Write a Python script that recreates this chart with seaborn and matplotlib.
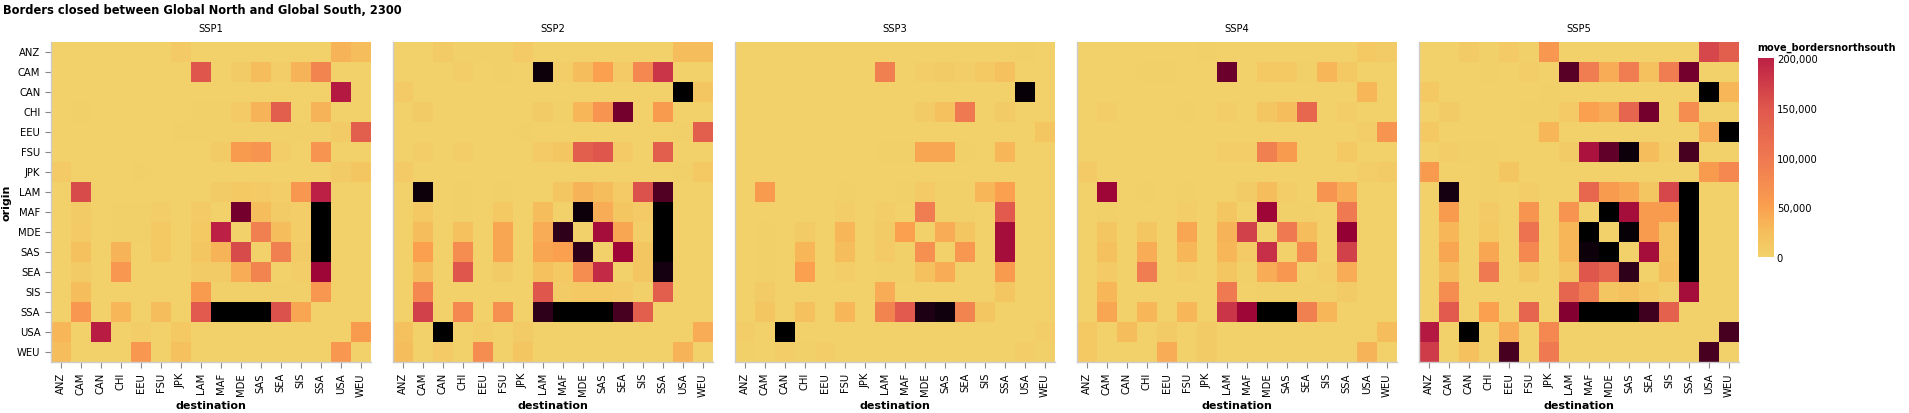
import numpy as np
import pandas as pd
import seaborn as sns
import matplotlib.pyplot as plt
import matplotlib
from matplotlib.colors import LinearSegmentedColormap, ListedColormap, Normalize
from matplotlib.ticker import FuncFormatter

# regions (origin = rows, destination = columns)
regions = ['ANZ', 'CAM', 'CAN', 'CHI', 'EEU', 'FSU', 'JPK', 'LAM',
           'MAF', 'MDE', 'SAS', 'SEA', 'SIS', 'SSA', 'USA', 'WEU']
scenarios = ['SSP1', 'SSP2', 'SSP3', 'SSP4', 'SSP5']

# values in thousands of people
ssp1 = [
    [0, 0, 0, 0, 0, 0, 10, 0, 0, 0, 0, 0, 0, 0, 35, 25],
    [0, 0, 0, 0, 0, 0, 0, 150, 0, 8, 25, 5, 35, 85, 0, 0],
    [0, 0, 0, 0, 0, 0, 0, 0, 0, 0, 0, 0, 0, 0, 210, 0],
    [0, 3, 0, 0, 0, 0, 0, 3, 3, 10, 35, 140, 0, 35, 0, 0],
    [0, 0, 0, 0, 0, 0, 3, 3, 3, 3, 3, 3, 3, 3, 8, 140],
    [0, 0, 0, 0, 0, 0, 0, 0, 8, 55, 65, 5, 0, 65, 0, 0],
    [10, 0, 0, 0, 3, 0, 0, 0, 0, 0, 0, 0, 0, 0, 8, 15],
    [0, 160, 0, 0, 0, 0, 0, 0, 8, 12, 10, 5, 60, 200, 0, 0],
    [0, 8, 0, 3, 3, 5, 0, 10, 0, 290, 25, 8, 5, 450, 0, 0],
    [0, 10, 0, 3, 3, 12, 0, 12, 200, 0, 90, 25, 5, 450, 0, 0],
    [0, 20, 0, 35, 0, 12, 0, 15, 35, 160, 0, 90, 8, 450, 0, 0],
    [0, 8, 0, 60, 0, 0, 0, 8, 8, 40, 85, 0, 5, 240, 0, 0],
    [0, 25, 0, 0, 0, 0, 0, 55, 3, 3, 3, 3, 3, 60, 0, 0],
    [0, 60, 0, 30, 0, 25, 0, 145, 450, 450, 450, 155, 45, 0, 0, 0],
    [30, 0, 205, 0, 5, 0, 12, 0, 0, 0, 0, 0, 0, 0, 0, 55],
    [25, 0, 0, 0, 60, 0, 20, 0, 0, 0, 0, 0, 0, 0, 60, 0],
]
ssp2 = [
    [0, 0, 8, 3, 3, 3, 10, 0, 0, 0, 0, 0, 0, 0, 25, 25],
    [0, 0, 0, 5, 0, 3, 0, 420, 5, 25, 50, 10, 80, 180, 0, 0],
    [10, 0, 0, 0, 0, 0, 0, 0, 0, 0, 0, 0, 0, 0, 450, 15],
    [0, 8, 0, 0, 0, 0, 0, 8, 3, 30, 65, 290, 0, 55, 0, 0],
    [0, 0, 0, 0, 0, 0, 3, 0, 0, 0, 0, 0, 0, 0, 3, 140],
    [0, 5, 0, 5, 0, 0, 0, 10, 15, 140, 150, 10, 0, 140, 0, 0],
    [10, 0, 0, 0, 0, 0, 0, 0, 0, 0, 0, 0, 0, 0, 3, 12],
    [0, 420, 0, 3, 0, 3, 0, 0, 15, 35, 25, 10, 155, 330, 0, 0],
    [0, 12, 0, 3, 0, 12, 0, 25, 0, 420, 40, 15, 10, 450, 0, 0],
    [0, 25, 0, 20, 0, 45, 0, 40, 370, 0, 230, 45, 5, 450, 0, 0],
    [0, 50, 0, 75, 0, 45, 0, 45, 50, 370, 0, 240, 15, 450, 0, 0],
    [0, 25, 0, 150, 0, 8, 0, 20, 12, 75, 190, 0, 15, 400, 0, 0],
    [0, 80, 0, 0, 0, 0, 0, 150, 8, 12, 12, 10, 3, 140, 0, 0],
    [0, 170, 0, 80, 0, 70, 0, 370, 450, 450, 450, 340, 140, 0, 0, 0],
    [20, 0, 450, 0, 5, 0, 8, 0, 0, 0, 0, 0, 0, 0, 0, 40],
    [25, 0, 10, 0, 75, 0, 15, 0, 0, 0, 0, 0, 0, 0, 35, 0],
]
ssp3 = [
    [0, 0, 0, 0, 0, 0, 0, 0, 0, 0, 0, 0, 0, 0, 3, 0],
    [0, 0, 0, 0, 0, 0, 0, 90, 0, 5, 8, 5, 12, 20, 0, 0],
    [0, 0, 0, 0, 0, 0, 0, 0, 0, 0, 0, 0, 0, 0, 430, 0],
    [0, 0, 0, 0, 0, 0, 0, 0, 0, 8, 20, 100, 0, 8, 0, 0],
    [0, 0, 0, 0, 0, 0, 0, 0, 0, 0, 0, 0, 0, 0, 0, 15],
    [0, 0, 0, 0, 0, 0, 0, 3, 3, 45, 45, 3, 0, 30, 0, 0],
    [0, 0, 0, 0, 0, 0, 0, 0, 0, 0, 0, 0, 0, 0, 0, 0],
    [0, 55, 0, 0, 0, 3, 0, 0, 3, 10, 3, 3, 30, 50, 0, 0],
    [0, 0, 0, 0, 0, 5, 0, 5, 0, 95, 3, 3, 0, 145, 0, 0],
    [0, 3, 0, 8, 0, 30, 0, 8, 50, 0, 40, 15, 0, 230, 0, 0],
    [0, 3, 0, 30, 0, 25, 0, 10, 3, 70, 0, 60, 0, 230, 0, 0],
    [0, 3, 0, 50, 0, 5, 0, 3, 3, 20, 40, 0, 0, 55, 0, 0],
    [0, 8, 0, 0, 0, 0, 0, 40, 0, 0, 0, 0, 0, 15, 0, 0],
    [0, 15, 0, 20, 0, 30, 0, 85, 145, 390, 410, 85, 15, 0, 0, 0],
    [5, 0, 450, 0, 0, 0, 0, 0, 0, 0, 0, 0, 0, 0, 0, 5],
    [3, 0, 5, 3, 5, 0, 0, 0, 0, 0, 0, 0, 0, 0, 5, 3],
]
ssp4 = [
    [0, 0, 0, 0, 0, 0, 3, 0, 0, 0, 0, 0, 0, 0, 12, 8],
    [0, 0, 0, 3, 3, 0, 0, 300, 0, 12, 12, 3, 30, 12, 0, 0],
    [0, 0, 0, 0, 0, 0, 0, 0, 0, 0, 0, 0, 0, 0, 30, 0],
    [0, 5, 0, 0, 0, 3, 0, 5, 0, 15, 25, 125, 0, 5, 0, 0],
    [0, 0, 0, 0, 0, 0, 0, 0, 0, 0, 0, 0, 0, 0, 5, 65],
    [0, 0, 0, 0, 0, 0, 0, 5, 5, 90, 55, 0, 0, 12, 0, 0],
    [10, 0, 0, 0, 0, 0, 0, 0, 0, 0, 0, 0, 0, 0, 5, 8],
    [0, 240, 0, 3, 0, 3, 0, 0, 8, 25, 5, 0, 65, 40, 0, 0],
    [0, 3, 0, 0, 0, 5, 0, 15, 0, 240, 3, 3, 0, 100, 0, 0],
    [0, 15, 0, 15, 0, 45, 0, 35, 170, 0, 100, 25, 0, 250, 0, 0],
    [0, 20, 0, 40, 0, 30, 0, 30, 10, 185, 0, 75, 0, 170, 0, 0],
    [0, 10, 0, 95, 0, 5, 0, 15, 3, 40, 60, 0, 5, 40, 0, 0],
    [0, 30, 0, 0, 0, 0, 0, 100, 0, 3, 3, 3, 3, 8, 0, 0],
    [0, 45, 0, 30, 0, 30, 0, 180, 240, 450, 450, 90, 30, 0, 0, 0],
    [12, 0, 25, 0, 8, 0, 8, 0, 0, 0, 0, 0, 0, 0, 0, 25],
    [12, 0, 0, 0, 40, 0, 8, 0, 0, 0, 0, 0, 0, 0, 35, 0],
]
ssp5 = [
    [0, 0, 8, 3, 10, 3, 60, 0, 0, 0, 0, 0, 0, 0, 165, 140],
    [0, 0, 0, 3, 0, 5, 0, 320, 95, 40, 95, 20, 95, 290, 0, 0],
    [12, 0, 0, 0, 0, 0, 3, 0, 0, 0, 0, 0, 0, 0, 450, 30],
    [0, 8, 0, 0, 0, 3, 3, 10, 50, 40, 130, 290, 0, 75, 0, 0],
    [12, 0, 0, 0, 0, 0, 30, 0, 0, 0, 0, 0, 0, 0, 40, 450],
    [0, 5, 3, 3, 0, 0, 0, 8, 220, 310, 420, 25, 5, 340, 0, 0],
    [55, 0, 0, 3, 15, 0, 0, 0, 0, 0, 0, 0, 0, 0, 55, 80],
    [0, 400, 0, 3, 0, 5, 0, 0, 125, 55, 45, 15, 165, 450, 0, 0],
    [0, 55, 0, 10, 0, 65, 0, 65, 0, 450, 230, 55, 55, 450, 0, 0],
    [0, 30, 0, 12, 0, 110, 0, 30, 450, 0, 430, 55, 20, 450, 0, 0],
    [0, 45, 0, 45, 0, 80, 0, 30, 420, 450, 0, 230, 20, 450, 0, 0],
    [0, 25, 0, 100, 0, 15, 0, 15, 150, 130, 370, 0, 25, 450, 0, 0],
    [0, 75, 0, 0, 0, 0, 0, 130, 95, 15, 20, 12, 3, 230, 0, 0],
    [0, 145, 0, 50, 0, 130, 0, 270, 450, 450, 450, 350, 135, 0, 0, 0],
    [210, 0, 450, 0, 40, 0, 80, 0, 0, 0, 0, 0, 0, 0, 0, 340],
    [175, 0, 20, 0, 340, 0, 100, 0, 0, 0, 0, 0, 0, 0, 340, 0],
]
matrices = [ssp1, ssp2, ssp3, ssp4, ssp5]

# colour scale: yellow -> orange -> red, values above 200k run on to black
vmax = 450000
anchors = [(0, '#f2d16a'), (25, '#f6bd5c'), (50, '#fa9f4f'), (100, '#ef7851'),
           (150, '#df574c'), (200, '#bc1f45'), (250, '#950033'), (300, '#6a002b'),
           (350, '#40001f'), (400, '#150012'), (450, '#000000')]
cmap = LinearSegmentedColormap.from_list('borders', [(v * 1000 / vmax, c) for v, c in anchors])
cbar_cmap = ListedColormap(cmap(np.linspace(0, 200000 / vmax, 256)))

plt.rcParams['font.family'] = ['DejaVu Sans']
fig = plt.figure(figsize=(19.09, 4.14), dpi=100)
W, H = 1909.0, 414.0

lefts = [50.7, 392.7, 735.0, 1076.7, 1419.0]
for i, (name, mat) in enumerate(zip(scenarios, matrices)):
    ax = fig.add_axes([lefts[i] / W, 1 - 362.7 / H, 320 / W, 320 / H])
    df = pd.DataFrame(np.array(mat) * 1000, index=regions, columns=regions)
    sns.heatmap(df, ax=ax, cmap=cmap, vmin=0, vmax=vmax, cbar=False, square=False)
    ax.set_title(name, fontsize=7.2, pad=8)
    ax.set_xlabel('destination', fontsize=8, fontweight='bold', labelpad=3)
    ax.tick_params(axis='x', labelrotation=90, labelsize=7.2, length=4, color='#888888', width=0.8)
    ax.tick_params(axis='y', labelrotation=0, labelsize=7.2, length=4, color='#888888', width=0.8)
    for side in ['left', 'bottom']:
        ax.spines[side].set_visible(True)
        ax.spines[side].set_color('#cccccc')
        ax.spines[side].set_linewidth(1)
    if i == 0:
        ax.set_ylabel('origin', fontsize=8, fontweight='bold', labelpad=4)
    else:
        ax.set_ylabel('')
        ax.set_yticklabels([])
        ax.tick_params(axis='y', length=0)

# colour legend
cax = fig.add_axes([1757.7 / W, 1 - 258.3 / H, 16.3 / W, 199.6 / H])
sm = matplotlib.cm.ScalarMappable(norm=Normalize(0, 200000), cmap=cbar_cmap)
cb = fig.colorbar(sm, cax=cax, ticks=[0, 50000, 100000, 150000, 200000])
cb.outline.set_visible(False)
cb.ax.yaxis.set_major_formatter(FuncFormatter(lambda v, p: f'{int(v):,}'))
cb.ax.tick_params(length=0, pad=2, labelsize=7.2)
fig.text(1757.0 / W, 1 - 48.0 / H, 'move_bordersnorthsouth', fontsize=7.0,
         fontweight='bold', va='center', ha='left')

fig.text(3 / W, 1 - 10 / H, 'Borders closed between Global North and Global South, 2300',
         fontsize=8.3, fontweight='bold', va='center', ha='left')

plt.savefig('out.png', dpi=100)
